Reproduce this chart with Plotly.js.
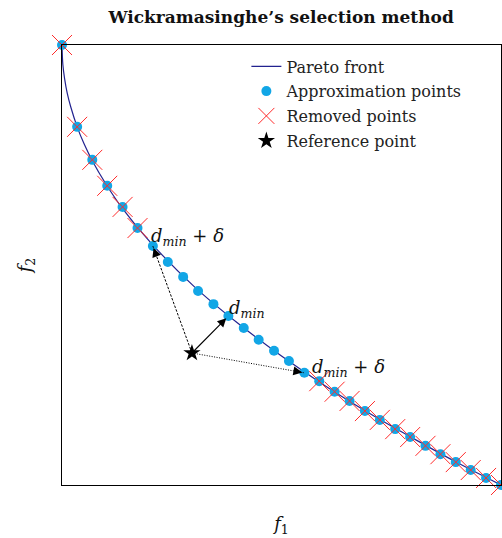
<!DOCTYPE html>
<html>
<head>
<meta charset="utf-8">
<script src="https://cdn.plot.ly/plotly-3.0.1.min.js"></script>
<style>
  html, body { margin: 0; padding: 0; background: #fff; }
  #chart { width: 502px; height: 538px; }
</style>
</head>
<body>
<div id="chart"></div>
<script>
// Sampled Pareto front (f1, f2)
const frontF1 = [0, 0.002, 0.006, 0.012, 0.02, 0.0345, 0.05, 0.069, 0.1, 0.138, 0.2, 0.3, 0.4, 0.5, 0.6, 0.7, 0.8, 0.9, 1.0];
const frontF2 = [1, 0.955, 0.923, 0.89, 0.859, 0.814, 0.776, 0.737, 0.684, 0.628, 0.553, 0.452, 0.368, 0.293, 0.225, 0.163, 0.106, 0.051, 0];

// Approximation set: 30 evenly spaced points along the front
const approxF1 = [0, 0.0345, 0.069, 0.103, 0.138, 0.172, 0.207, 0.241, 0.276, 0.310,
                  0.345, 0.379, 0.414, 0.448, 0.483, 0.517, 0.552, 0.586, 0.621, 0.655,
                  0.690, 0.724, 0.759, 0.793, 0.828, 0.862, 0.897, 0.931, 0.966, 1.0];
const approxF2 = [1.0, 0.814, 0.739, 0.680, 0.632, 0.584, 0.543, 0.507, 0.473, 0.441,
                  0.411, 0.384, 0.357, 0.330, 0.305, 0.282, 0.255, 0.236, 0.212, 0.191,
                  0.168, 0.148, 0.127, 0.109, 0.089, 0.070, 0.052, 0.034, 0.016, 0.0];

// Indices of the points discarded by the selection
const removedIdx = [0, 1, 2, 3, 4, 5, 17, 18, 19, 20, 21, 22, 23, 24, 25, 26, 27, 28, 29];

// Reference point and the points at distance d_min and d_min + delta
const refF1 = 0.296;
const refF2 = 0.300;
const dminIdx = 11;
const deltaIdx = [6, 16];

const serif = "DejaVu Serif, serif";
const removedF1 = removedIdx.map(i => approxF1[i]);
const removedF2 = removedIdx.map(i => approxF2[i]);

const traces = [
  {
    x: frontF1, y: frontF2, mode: "lines", name: "Pareto front",
    line: { color: "#22228f", width: 1.2, shape: "spline", smoothing: 1 },
    legendgroup: "a", cliponaxis: false
  },
  {
    x: approxF1, y: approxF2, mode: "markers", name: "Approximation points",
    marker: { color: "#12a6e6", size: 10 },
    legendgroup: "b", cliponaxis: false
  },
  {
    x: removedF1, y: removedF2, mode: "markers", name: "Removed points",
    marker: { symbol: "x-thin-open", size: 20, line: { color: "#ff2a2a", width: 1 }, color: "#ff2a2a" },
    legendgroup: "c", cliponaxis: false
  },
  {
    x: [refF1], y: [refF2], mode: "markers", name: "Reference point",
    marker: { symbol: "star", color: "black", size: 13 },
    legendgroup: "d", cliponaxis: false
  }
];

// Broken lines from the reference point to the d_min + delta points
const shapes = deltaIdx.map((i, k) => ({
  type: "line", xref: "x", yref: "y",
  x0: refF1, y0: refF2, x1: approxF1[i], y1: approxF2[i],
  line: { color: "black", width: 1, dash: k === 0 ? "2.5px,1.5px" : "1px,1.5px" }
}));

const labelFont = { family: serif, size: 18, color: "#111" };
const deltaLabel = "<i>d</i><sub><i>min</i></sub> + <i>δ</i>";

const annotations = [];
// Arrowheads at the ends of the broken lines
deltaIdx.forEach(i => {
  const tx = approxF1[i], ty = approxF2[i];
  annotations.push({
    x: tx, y: ty, ax: tx + (refF1 - tx) * 0.08, ay: ty + (refF2 - ty) * 0.08,
    xref: "x", yref: "y", axref: "x", ayref: "y",
    text: "", showarrow: true, arrowhead: 2, arrowsize: 1.8, arrowwidth: 1,
    arrowcolor: "black", standoff: 2
  });
});
// Solid arrow to the closest point
annotations.push({
  x: approxF1[dminIdx], y: approxF2[dminIdx], ax: refF1, ay: refF2,
  xref: "x", yref: "y", axref: "x", ayref: "y",
  text: "", showarrow: true, arrowhead: 2, arrowsize: 1.6, arrowwidth: 1.1,
  arrowcolor: "black", standoff: 3
});
// Distance labels
annotations.push({
  x: approxF1[deltaIdx[0]], y: approxF2[deltaIdx[0]], xref: "x", yref: "y",
  text: deltaLabel, showarrow: false, xanchor: "left", yanchor: "middle",
  xshift: -4, yshift: 9, font: labelFont
});
annotations.push({
  x: approxF1[dminIdx], y: approxF2[dminIdx], xref: "x", yref: "y",
  text: "<i>d</i><sub><i>min</i></sub>", showarrow: false, xanchor: "left", yanchor: "middle",
  xshift: -1, yshift: 7, font: labelFont
});
annotations.push({
  x: approxF1[deltaIdx[1]], y: approxF2[deltaIdx[1]], xref: "x", yref: "y",
  text: deltaLabel, showarrow: false, xanchor: "left", yanchor: "middle",
  xshift: 6, yshift: 5, font: labelFont
});

const axisBase = {
  range: [0, 1], showline: true, mirror: true, linecolor: "black", linewidth: 1,
  showgrid: false, zeroline: false, ticks: "", showticklabels: false, fixedrange: true
};

const layout = {
  width: 502, height: 538,
  margin: { l: 62, r: 1, t: 45, b: 53 },
  paper_bgcolor: "white", plot_bgcolor: "white",
  font: { family: serif, color: "#111" },
  title: {
    text: "<b>Wickramasinghe’s selection method</b>",
    font: { family: serif, size: 17, color: "#111" },
    x: 0.56, xanchor: "center", y: 0.968, yanchor: "middle"
  },
  xaxis: Object.assign({}, axisBase, {
    title: { text: "<i>f</i><sub>1</sub>", font: { family: serif, size: 18 }, standoff: 32 }
  }),
  yaxis: Object.assign({}, axisBase, {
    title: { text: "<i>f</i><sub>2</sub>", font: { family: serif, size: 18 }, standoff: 24 }
  }),
  showlegend: true,
  legend: {
    x: 0.42, y: 0.99, xanchor: "left", yanchor: "top",
    bgcolor: "rgba(0,0,0,0)", borderwidth: 0,
    traceorder: "grouped", tracegroupgap: 1,
    font: { family: serif, size: 16, color: "#222" }
  },
  shapes: shapes,
  annotations: annotations
};

Plotly.newPlot("chart", traces, layout, { displayModeBar: false, staticPlot: true });
</script>
</body>
</html>
